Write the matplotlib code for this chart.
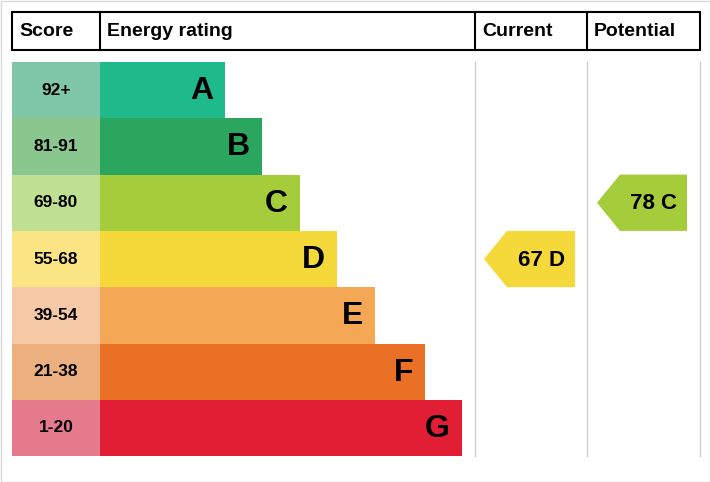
import matplotlib.pyplot as plt
from matplotlib.patches import Rectangle, Polygon

# EPC bands, top (best) to bottom
bands = ['A', 'B', 'C', 'D', 'E', 'F', 'G']
scores = ['92+', '81-91', '69-80', '55-68', '39-54', '21-38', '1-20']
bar_colors = ['#1fba8b', '#2aa65e', '#a5cc3a', '#f5d93a', '#f4a755', '#ea7025', '#e21e35']
score_colors = ['#7fc7a8', '#89c78e', '#bfe092', '#fbe483', '#f5c9a6', '#ecb07f', '#e57a8c']
bar_ends = [225, 262, 300, 337, 375, 425, 462]

current_value = 67
current_band = 'D'
potential_value = 78
potential_band = 'C'

fig = plt.figure(figsize=(7.1, 4.82), dpi=100)
ax = fig.add_axes([0, 0, 1, 1])
ax.set_xlim(0, 710)
ax.set_ylim(482, 0)
ax.axis('off')

fnt = ['Liberation Sans Narrow', 'Liberation Sans', 'DejaVu Sans']

# image frame
ax.add_patch(Rectangle((0.5, 0.5), 709, 481, fill=False, ec='#d9d9d9', lw=1))

# header
top, bot = 12, 50
ax.add_patch(Rectangle((12, top), 688, bot - top, fill=False, ec='black', lw=1.5))
for x in [100, 475, 587]:
    ax.plot([x, x], [top, bot], color='black', lw=1.5)
for x, t in [(19, 'Score'), (107, 'Energy rating'), (482, 'Current'), (594, 'Potential')]:
    ax.text(x, (top + bot) / 2 + 1, t, ha='left', va='center', fontsize=14,
            fontweight='bold', family=fnt)

# bands
y0, h = 62, 56.3
for i, b in enumerate(bands):
    y = y0 + i * h
    ax.add_patch(Rectangle((12, y), 88, h, color=score_colors[i], lw=0))
    ax.add_patch(Rectangle((100, y), bar_ends[i] - 100, h, color=bar_colors[i], lw=0))
    ax.text(56, y + h / 2, scores[i], ha='center', va='center', fontsize=12.5,
            fontweight='bold', family=fnt)
    ax.text(bar_ends[i] - 12, y + h / 2 + 1, b, ha='right', va='center', fontsize=23,
            fontweight='bold', family=fnt)

y_end = y0 + 7 * h
for x in [475, 587, 700]:
    ax.plot([x, x], [y0, y_end], color='#cccccc', lw=1)


def arrow(x_tip, x_right, band, value):
    i = bands.index(band)
    y = y0 + i * h
    pts = [(x_tip, y + h / 2), (x_tip + 23, y), (x_right, y), (x_right, y + h), (x_tip + 23, y + h)]
    ax.add_patch(Polygon(pts, closed=True, color=bar_colors[i], lw=0))
    ax.text(x_right - 10, y + h / 2 + 1, f'{value} {band}', ha='right', va='center',
            fontsize=16, fontweight='bold', family=fnt)


arrow(484, 575, current_band, current_value)
arrow(597, 687, potential_band, potential_value)

fig.savefig('out.png', dpi=100)
